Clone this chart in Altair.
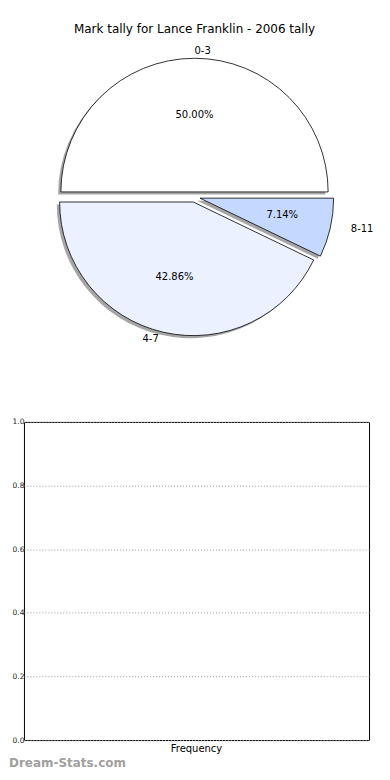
import math
import altair as alt
import pandas as pd

# ---- data ----
buckets = ["0-3", "4-7", "8-11"]
games = [7, 6, 1]
slice_colors = ["#ffffff", "#ebf1fe", "#c5d8fe"]

freq_categories = ["Frequency"]
freq_values = [0]
y_ticks = [0.0, 0.2, 0.4, 0.6, 0.8, 1.0]

title_text = "Mark tally for Lance Franklin - 2006 tally"
watermark = "Dream-Stats.com"

# ---- style constants ----
EXPLODE = 0.04
SHADOW = -0.02
LABEL_R = 1.1
PCT_R = 0.6
PIE_W, PIE_H = 358, 316
CX = 171     # pie centre inside the view, px
CY = 155.5
RX, RY = 141, 128
RADIUS = 134

pie_df = pd.DataFrame({"bucket": buckets, "games": games, "idx": list(range(len(buckets)))})

xscale = alt.Scale(domain=[-CX / RX, (PIE_W - CX) / RX], nice=False, zero=False)
yscale = alt.Scale(domain=[-(PIE_H - CY) / RY, CY / RY], nice=False, zero=False)

base = alt.Chart(pie_df).transform_joinaggregate(
    total="sum(games)"
).transform_window(
    cum="sum(games)", sort=[alt.SortField("idx", order="ascending")], frame=[None, 0]
).transform_calculate(
    mid="2*PI*(datum.cum - datum.games/2)/datum.total",
    ex=f"{EXPLODE}*cos(datum.mid)",
    ey=f"{EXPLODE}*sin(datum.mid)",
    sx=f"datum.ex + {SHADOW}",
    sy=f"datum.ey + {SHADOW}",
    lx=f"datum.ex + {LABEL_R}*cos(datum.mid)",
    ly=f"datum.ey + {LABEL_R}*sin(datum.mid)",
    px=f"datum.ex + {PCT_R}*cos(datum.mid)",
    py=f"datum.ey + {PCT_R}*sin(datum.mid)",
    pct="format(datum.games/datum.total*100, '.2f') + '%'",
    side="cos(datum.mid) > 0 ? 'L' : 'R'",
)

theta_enc = alt.Theta("games:Q", stack=True,
                      scale=alt.Scale(range=[-1.5 * math.pi, 0.5 * math.pi]))
order_enc = alt.Order("idx:Q", sort="descending")

shadow = base.mark_arc(radius=RADIUS, fill="#4d4d4d", fillOpacity=0.5).encode(
    theta=theta_enc,
    order=order_enc,
    detail="bucket:N",
    x=alt.X("sx:Q", scale=xscale, axis=None),
    y=alt.Y("sy:Q", scale=yscale, axis=None),
)

arcs = base.mark_arc(radius=RADIUS, stroke="black", strokeWidth=0.8).encode(
    theta=theta_enc,
    order=order_enc,
    x=alt.X("ex:Q", scale=xscale, axis=None),
    y=alt.Y("ey:Q", scale=yscale, axis=None),
    color=alt.Color("bucket:N", scale=alt.Scale(domain=buckets, range=slice_colors), legend=None),
)

pct_text = base.mark_text(fontSize=10, color="black", align="center", baseline="middle").encode(
    x=alt.X("px:Q", scale=xscale, axis=None),
    y=alt.Y("py:Q", scale=yscale, axis=None),
    text="pct:N",
)

lab_left = base.transform_filter("datum.side == 'L'").mark_text(
    fontSize=10, color="black", align="left", baseline="middle"
).encode(
    x=alt.X("lx:Q", scale=xscale, axis=None),
    y=alt.Y("ly:Q", scale=yscale, axis=None),
    text="bucket:N",
)

lab_right = base.transform_filter("datum.side == 'R'").mark_text(
    fontSize=10, color="black", align="right", baseline="middle"
).encode(
    x=alt.X("lx:Q", scale=xscale, axis=None),
    y=alt.Y("ly:Q", scale=yscale, axis=None),
    text="bucket:N",
)

pie = alt.layer(shadow, arcs, pct_text, lab_left, lab_right).properties(
    width=PIE_W,
    height=PIE_H,
    title=alt.TitleParams(title_text, fontSize=12, fontWeight="normal", anchor="middle",
                          frame="group", offset=6, color="black", dx=CX - PIE_W / 2),
    view=alt.ViewBackground(stroke="transparent"),
)

freq_df = pd.DataFrame({"series": freq_categories, "value": freq_values})

bottom = alt.Chart(freq_df).mark_bar(color="#c5d8fe").encode(
    x=alt.X("series:N", axis=alt.Axis(title=None, ticks=False, domain=False, labelAngle=0,
                                       labelFontSize=10, labelPadding=3, labelColor="black")),
    y=alt.Y("value:Q", scale=alt.Scale(domain=[0, 1], nice=False),
            axis=alt.Axis(title=None, values=y_ticks, format=".1f", ticks=False, domain=False,
                          labelFontSize=7.5, labelPadding=0, labelColor="#222222",
                          grid=True, gridDash=[1, 2], gridColor="#9a9a9a", gridWidth=1)),
).properties(
    width=346,
    height=319,
    title=alt.TitleParams(watermark, orient="bottom", anchor="start", frame="group",
                          fontSize=12, fontWeight="bold", color="#a0a0a0", dx=-15, offset=5),
)

chart = alt.vconcat(pie, bottom, spacing=59).properties(
    padding={"top": 13, "left": 0, "right": 0, "bottom": 0}
).configure(
    font="DejaVu Sans"
).configure_view(
    stroke="black", strokeWidth=1
)

chart.save("out.html", embed_options={"renderer": "svg", "actions": False})
